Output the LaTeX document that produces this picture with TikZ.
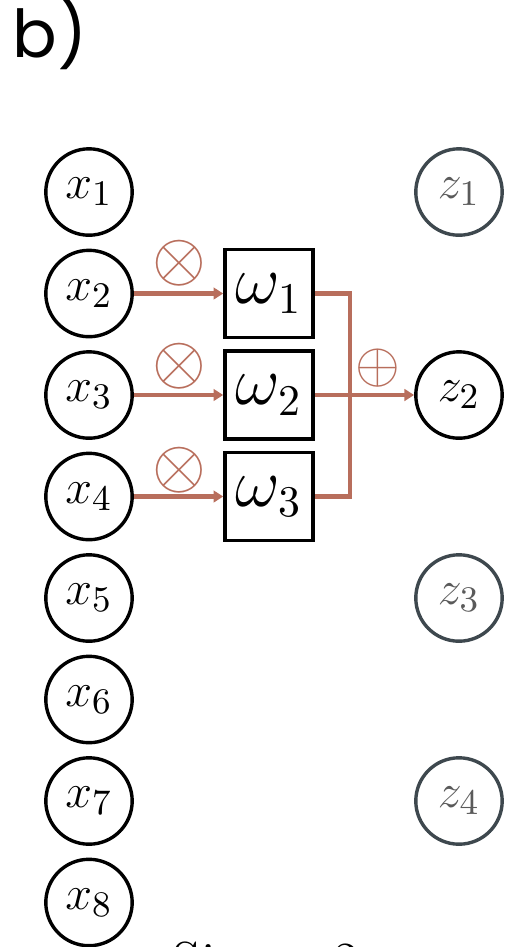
\documentclass[tikz,border=0pt]{standalone}
\usepackage{amsmath}
\usepackage{amssymb}
\usepackage{fontspec}
\newfontfamily\labelfont{Poppins}
\usetikzlibrary{arrows.meta, positioning}
\definecolor{convbrown}{RGB}{184,110,92}
\definecolor{slategray}{RGB}{62,72,78}
\definecolor{idlegray}{RGB}{90,90,90}

\tikzset{
	innode/.style={circle, draw, line width=0.85pt, minimum size=21.6pt, inner sep=0pt, font=\fontsize{13}{15}\selectfont},
	outnode/.style={innode, draw=slategray, text=idlegray},
	kernel/.style={rectangle, draw, line width=0.9pt, minimum size=22pt, inner sep=0pt, font=\fontsize{16}{18}\selectfont},
	flow/.style={convbrown, line width=1.1pt},
	opsign/.style={convbrown, inner sep=0pt, font=\fontsize{17}{19}\selectfont}
}

\begin{document}
\begin{tikzpicture}[x=0.25pt, y=-0.25pt]
		\useasboundingbox (0,0) rectangle (505,947);
		\node [anchor=base west, inner sep=0pt, font=\labelfont\fontsize{16.5}{20}\selectfont] (tag) at (12,57) {b)};
		
		% input column
		\foreach \i in {1,...,8}{
			\node [innode] (x\i) at (89,{192+101.5*(\i-1)}) {$x_{\i}$};
		}
		% output column
		\node [outnode] (z1) at (459,192) {$z_1$};
		\node [innode] (z2) at (459,395) {$z_2$};
		\node [outnode] (z3) at (459,598) {$z_3$};
		\node [outnode] (z4) at (459,801) {$z_4$};
		
		% kernel weights
		\foreach \j/\i in {1/2,2/3,3/4}{
			\node [kernel] (w\j) at (269,{192+101.5*(\i-1)}) {$\omega_{\j}$};
			\draw [flow, -{Triangle[length=2.4pt, width=2.9pt]}] (x\i.east) -- (w\j.west);
			\node [opsign] (mul\j) at (179,{263+103.5*(\j-1)}) {$\otimes$};
		}
		
		% sum
		\coordinate (j1) at (350,293.5);
		\coordinate (j3) at (350,496.5);
		\draw [flow, line join=miter] (w1.east) -- (j1) -- (j3) -- (w3.east);
		\draw [flow, -{Triangle[length=2.4pt, width=2.9pt]}] (w2.east) -- (z2.west);
		\node [opsign, font=\fontsize{15.5}{17}\selectfont] (add) at (378,368) {$\oplus$};
		
		\node [anchor=base west, inner sep=0pt, font=\fontsize{13}{15}\selectfont] (caption) at (172,978) {Size = 2};
	\end{tikzpicture}
\end{document}
